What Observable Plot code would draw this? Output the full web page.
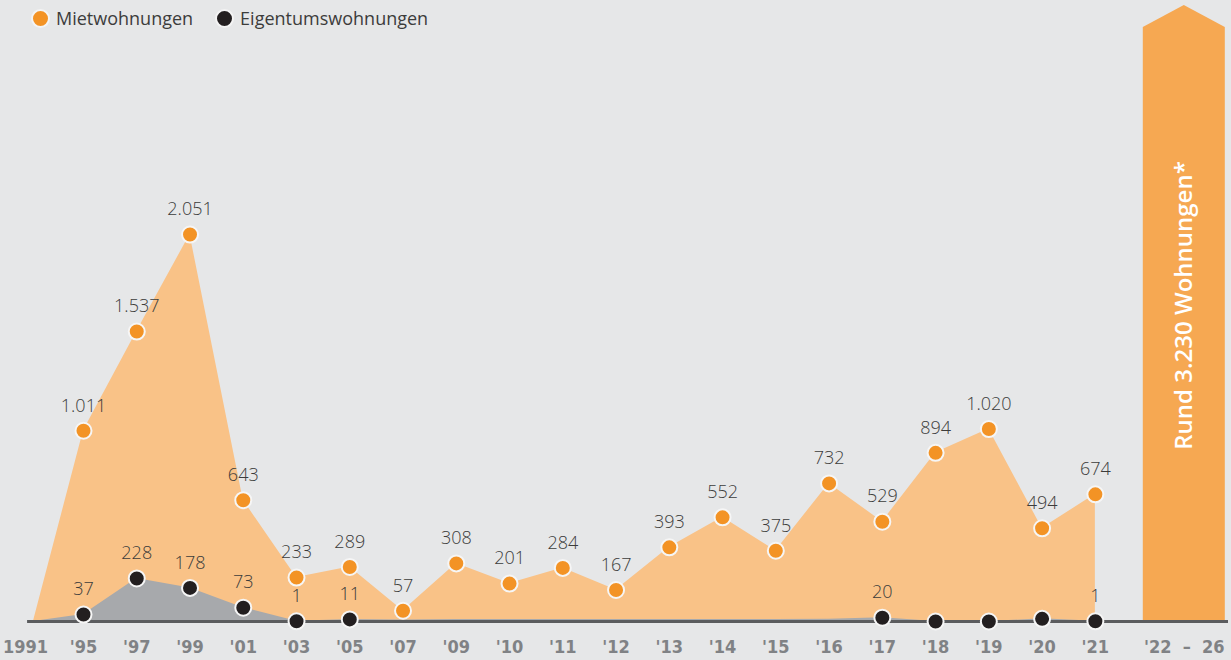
<!DOCTYPE html>
<html><head><meta charset="utf-8">
<script src="https://cdn.jsdelivr.net/npm/d3@7"></script>
<script src="https://cdn.jsdelivr.net/npm/@observablehq/plot@0.6"></script>
<style>
html,body{margin:0;padding:0;background:#e6e7e8;}
#wrap{position:relative;width:1231px;height:660px;overflow:hidden;}
#legend{position:absolute;left:31px;top:6px;font-family:"Open Sans",sans-serif;font-size:18px;color:#3c3c3b;display:flex;align-items:center;z-index:2;}
#legend .item{display:flex;align-items:center;margin-right:22px;}
#legend .sw{width:15px;height:15px;border-radius:50%;border:2px solid #f4f4f4;margin-right:6px;box-sizing:content-box;}
</style></head><body>
<div id="wrap">
  <div id="legend"></div>
</div>
<script>
// ---- data ----
const years = ["1991","'95","'97","'99","'01","'03","'05","'07","'09","'10","'11","'12","'13","'14","'15","'16","'17","'18","'19","'20","'21"];
const miet = [0,1011,1537,2051,643,233,289,57,308,201,284,167,393,552,375,732,529,894,1020,494,674];
const eigentum = [0,37,228,178,73,1,11,8,10,10,10,10,10,10,10,12,20,0,0,14,1];
const eigentumDotYears = ["'95","'97","'99","'01","'03","'05","'17","'18","'19","'20","'21"];
const eigentumLabelYears = ["'95","'97","'99","'01","'03","'05","'17","'21"];
const seriesNames = ["Mietwohnungen","Eigentumswohnungen"];
const seriesColors = ["#f39325","#231f20"];
const forecastLabel = "'22\u00a0\u00a0–\u00a0\u00a026";
const forecastText = "Rund 3.230 Wohnungen*";

// ---- derived tables ----
const fmt = d3.formatLocale({decimal:",",thousands:".",grouping:[3],currency:["","€"]}).format(",");
const rows = years.map((y,i)=>({i, x: i === 0 ? 0.06 : i, year:y, miet:miet[i], eig:eigentum[i]}));
const mietPts = rows.filter(d=>d.i>0);
const eigDots = rows.filter(d=>eigentumDotYears.includes(d.year));
const eigLabels = rows.filter(d=>eigentumLabelYears.includes(d.year));
const L = years.length - 1;
const fx = L + 1.67;               // forecast column position
const arrowLeft = L + 0.9, arrowRight = L + 2.44;
const arrowTop = 3265, arrowShoulder = 3148;
const arrow = [{x:arrowLeft,y:arrowShoulder},{x:fx,y:arrowTop},{x:arrowRight,y:arrowShoulder}];
const xLabels = rows.map(d=>({x: d.i === 0 ? -0.09 : d.i, label:d.year})).concat([{x:fx,label:forecastLabel}]);

// legend
const leg = document.getElementById("legend");
seriesNames.forEach((s,k)=>{
  const it=document.createElement("div");it.className="item";
  const sw=document.createElement("span");sw.className="sw";sw.style.background=seriesColors[k];
  it.appendChild(sw);it.appendChild(document.createTextNode(s));leg.appendChild(it);
});

const labelFont = "'Open Sans', sans-serif";
const chart = Plot.plot({
  width:1231, height:660,
  marginLeft:29.74, marginRight:3, marginTop:5, marginBottom:39,
  style:{background:"transparent", overflow:"visible"},
  x:{domain:[0,22.5], axis:null},
  y:{domain:[0,arrowTop], axis:null},
  marks:[
    Plot.areaY(rows,{x:"x", y:"miet", fill:"#f9c287"}),
    Plot.areaY(rows,{x:"x", y:"eig", fill:"#a7a9ac"}),
    Plot.areaY(arrow,{x:"x", y:"y", fill:"#f6a852"}),
    Plot.ruleY([0],{x1:-0.05, x2:22.5, stroke:"#5b5c5e", strokeWidth:3}),
    Plot.dot(mietPts,{x:"x", y:"miet", r:8, fill:seriesColors[0], stroke:"#f6f6f6", strokeWidth:2}),
    Plot.dot(eigDots,{x:"x", y:"eig", r:8, fill:seriesColors[1], stroke:"#f6f6f6", strokeWidth:2}),
    Plot.text(mietPts,{x:"x", y:"miet", text:d=>fmt(d.miet), dy:-25, fontSize:18, fontWeight:300, fill:"#3c3c3b", fontFamily:labelFont}),
    Plot.text(eigLabels,{x:"x", y:"eig", text:d=>fmt(d.eig), dy:-25, fontSize:18, fontWeight:300, fill:"#3c3c3b", fontFamily:labelFont}),
    Plot.text(xLabels,{x:"x", y:0, text:"label", dy:26, fontSize:18, fontWeight:"bold", fill:"#808285", fontFamily:"'Liberation Sans Narrow', 'DejaVu Sans Condensed', sans-serif"}),
    Plot.text([forecastText],{x:fx, y:1675, text:d=>d, rotate:-90, fill:"#ffffff", fontSize:24, fontWeight:600, fontFamily:labelFont})
  ]
});
document.getElementById("wrap").appendChild(chart);
</script>
</body></html>
